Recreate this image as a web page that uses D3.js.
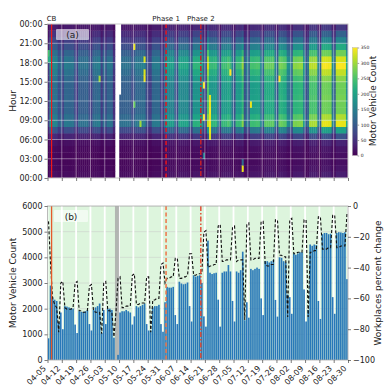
<!DOCTYPE html>
<html><head><meta charset="utf-8">
<script src="https://cdn.jsdelivr.net/npm/d3@7"></script>
<style>body{margin:0;background:#fff} text{font-family:"DejaVu Sans",sans-serif;fill:#222}</style>
</head><body><svg id="c" width="390" height="390"></svg>
<script>
// ---------------- data ----------------
const startDate = "2020-04-05", endDate = "2020-08-30";
const tickLabels = ["04-05","04-12","04-19","04-26","05-03","05-10","05-17","05-24","05-31","06-07","06-14","06-21","06-28","07-05","07-12","07-19","07-26","08-02","08-09","08-16","08-23","08-30"];
const hourTicks = [0,3,6,9,12,15,18,21,24];
const hourLabels = ["00:00","03:00","06:00","09:00","12:00","15:00","18:00","21:00","00:00"];
const countTicks = [0,1000,2000,3000,4000,5000,6000];
const workTicks = [-100,-80,-60,-40,-20,0];
const cbarTicks = [0,50,100,150,200,250,300,350];
// daily motor vehicle count (04-05 .. 08-29)
const vehicles = [
 845,2900,2450,2350,2300,1450,1850,
 1200,2100,2080,2050,2020,2000,1380,
 1050,1900,1880,1870,1900,1950,1400,
 1150,1950,2050,2100,2200,1050,1950,
 1400,2000,2000,1950,870,null,200,
 1850,1900,1900,1950,1900,1850,1380,
 1700,2100,2050,2100,2150,2200,1400,
 1150,1150,2050,2100,2100,2150,1400,
 1100,2250,2850,2820,2820,2850,1750,
 1400,3050,2980,2950,2970,3020,2100,
 1500,3300,3250,3280,3300,3000,1700,
 1300,4650,3400,3350,3380,3400,2350,
 1300,3400,3450,3450,3700,3450,2300,
 1500,3450,3400,3500,4220,1550,2250,
 1650,3550,3500,3550,3600,3550,2400,
 1750,3850,3850,3800,3850,3900,2340,
 1690,4000,3980,3850,3800,2550,2450,
 1800,4150,4100,4150,4200,4200,2750,
 1500,1950,4500,4450,4500,4480,2300,
 1600,4900,4950,4950,4900,4920,2450,
 1800,4950,4980,4970,4950,4980,3150];
// workplaces percent change (daily)
const workplaces = [
 -10,-38,-60,-64,-66,-82,-50,
 -49,-66,-67,-67,-67,-66,-50,
 -49,-68,-68,-69,-69,-68,-52,
 -51,-68,-69,-69,-69,-83,-50,
 -49,-68,-68,-69,-85,-69,-47,
 -46,-66,-66,-65,-65,-65,-45,
 -44,-64,-64,-63,-63,-63,-46,
 -46,-82,-61,-61,-60,-60,-38,
 -37,-50,-47,-47,-46,-46,-34,
 -34,-47,-47,-46,-46,-45,-31,
 -31,-45,-45,-44,-44,-44,-17,
 -16,-40,-39,-39,-38,-38,-13,
 -12,-36,-36,-35,-35,-35,-14,
 -13,-36,-35,-35,-35,-74,-12,
 -11,-35,-35,-34,-34,-34,-10,
 -10,-38,-39,-39,-38,-38,-9,
 -9,-32,-32,-33,-33,-72,-9,
 -8,-31,-31,-30,-30,-30,-9,
 -9,-72,-30,-30,-29,-29,-7,
 -7,-28,-28,-28,-27,-27,-6,
 -6,-27,-27,-26,-26,-26,-5];
const hourShare = [0.006,0.004,0.003,0.003,0.004,0.007,0.018,0.040,0.068,0.062,0.055,0.055,0.056,0.055,0.055,0.058,0.064,0.070,0.066,0.055,0.043,0.032,0.022,0.012];
// isolated hot cells [dayIndex, hour, count]
const hotspots = [[0,19,250],[0,18,220],[42,20,340],[47,18,330],[47,16,330],[47,15,340],[25,15,300],[42,11,270],[45,8,300],
 [76,14,350],[76,9,350],[89,16,350],[113,15,350],[99,11,340],[95,1,340],[95,2,120],[76,3,150],
 [79,6,330],[79,7,340],[79,8,345],[79,9,340],[79,10,345],[79,11,340],[79,12,340]];
const heatMissingDays = ["2020-05-08","2020-05-09"];
const heatPartial = {date:"2020-05-10", fromHour:13};
const grayBand = ["2020-05-08","2020-05-10"];
const events = [{label:"CB",date:"2020-04-07"},{label:"Phase 1",date:"2020-06-02"},{label:"Phase 2",date:"2020-06-19"}];

// ---------------- chart ----------------
const parse = d3.timeParse("%Y-%m-%d");
const t0 = parse(startDate), t1 = parse(endDate);
const days = d3.timeDay.range(t0, t1);
const X0 = 47.5, X1 = 348;
const x = d3.scaleTime().domain([t0, t1]).range([X0, X1]);
const dayW = x(days[1]) - x(days[0]);
const svg = d3.select("#c");
const defs = svg.append("defs");

// ===== panel (a) heatmap =====
const HT = 24, HB = 178;
const yH = d3.scaleLinear().domain([0,24]).range([HB, HT]);
const color = d3.scaleSequential(d3.interpolateViridis).domain([0,350]).clamp(true);
defs.append("clipPath").attr("id","clipA").append("rect").attr("x",X0).attr("y",HT).attr("width",X1-X0).attr("height",HB-HT);
defs.append("clipPath").attr("id","clipB").append("rect").attr("x",X0).attr("y",206).attr("width",X1-X0).attr("height",154);

const missIdx = new Set(heatMissingDays.map(s => d3.timeDay.count(t0, parse(s))));
const partIdx = d3.timeDay.count(t0, parse(heatPartial.date));
const cells = [];
days.forEach((dt, d) => {
  for (let h = 0; h < 24; h++) {
    let v = vehicles[d] == null ? null : vehicles[d] * hourShare[h];
    if (missIdx.has(d)) v = null;
    if (d === partIdx && h >= heatPartial.fromHour) v = null;
    cells.push({d, h, v});
  }
});
hotspots.forEach(([d,h,v]) => { cells[d*24+h].v = v; });
const gA = svg.append("g").attr("clip-path","url(#clipA)");
gA.selectAll("rect").data(cells.filter(c => c.v != null)).join("rect")
  .attr("x", c => x(days[c.d])).attr("width", dayW + 0.35)
  .attr("y", c => yH(c.h+1)).attr("height", yH(0)-yH(1) + 0.35)
  .attr("fill", c => color(c.v));
// grid
const weekTicks = tickLabels.map((s,i) => d3.timeDay.offset(t0, 7*i));
gA.selectAll("line.gv").data(weekTicks).join("line").attr("class","gv")
  .attr("x1", d => x(d)).attr("x2", d => x(d)).attr("y1", HT).attr("y2", HB)
  .attr("stroke","#fff").attr("stroke-opacity",0.45).attr("stroke-width",0.9);
gA.selectAll("line.gh").data(hourTicks).join("line").attr("class","gh")
  .attr("x1", X0).attr("x2", X1).attr("y1", d => yH(d)).attr("y2", d => yH(d))
  .attr("stroke","#fff").attr("stroke-opacity",0.45).attr("stroke-width",0.9);
// event lines (top)
const evTop = [{c:"#f01818",dash:null,w:1.2},{c:"#e8141c",dash:"4,2.5",w:1.5},{c:"#c8202a",dash:"5,2,1.5,2",w:1.5}];
events.forEach((e,i) => {
  const xe = x(parse(e.date));
  svg.append("line").attr("x1",xe).attr("x2",xe).attr("y1",HT).attr("y2",HB)
    .attr("stroke",evTop[i].c).attr("stroke-width",evTop[i].w).attr("stroke-dasharray",evTop[i].dash);
  svg.append("text").attr("x",xe).attr("y",21).attr("text-anchor","middle").attr("font-size",7).attr("fill","#333").text(e.label);
});
svg.append("rect").attr("x",X0).attr("y",HT).attr("width",X1-X0).attr("height",HB-HT).attr("fill","none").attr("stroke","#bbb").attr("stroke-width",0.8);
// axes
const axL = svg.append("g").attr("transform",`translate(${X0},0)`)
  .call(d3.axisLeft(yH).tickValues(hourTicks).tickFormat((d,i)=>hourLabels[i]).tickSize(3).tickPadding(2));
const axBotA = svg.append("g").attr("transform",`translate(0,${HB})`)
  .call(d3.axisBottom(x).tickValues(weekTicks).tickFormat("").tickSize(3));
// panel label (a)
svg.append("rect").attr("x",56).attr("y",29).attr("width",33).attr("height",11).attr("rx",1).attr("fill","#fff").attr("fill-opacity",0.6);
svg.append("text").attr("x",72.5).attr("y",38).attr("text-anchor","middle").attr("font-size",9).text("(a)");
svg.append("text").attr("transform","translate(16,101) rotate(-90)").attr("text-anchor","middle").attr("font-size",9).text("Hour");

// colorbar
const CBx = 352.3, CBw = 5.4, CBt = 47.5, CBb = 155.5;
const grad = defs.append("linearGradient").attr("id","vir").attr("x1",0).attr("x2",0).attr("y1",1).attr("y2",0);
d3.range(0,1.0001,0.1).forEach(t => grad.append("stop").attr("offset",t).attr("stop-color",d3.interpolateViridis(t)));
svg.append("rect").attr("x",CBx).attr("y",CBt).attr("width",CBw).attr("height",CBb-CBt).attr("fill","url(#vir)").attr("stroke","#bbb").attr("stroke-width",0.5);
const yC = d3.scaleLinear().domain([0,350]).range([CBb,CBt]);
const axC = svg.append("g").attr("transform",`translate(${CBx+CBw},0)`)
  .call(d3.axisRight(yC).tickValues(cbarTicks).tickSize(1.5).tickPadding(1.5));
axC.selectAll("text").attr("font-size",4.5);
axC.select(".domain").remove();
svg.append("text").attr("transform","translate(376,101) rotate(-90)").attr("text-anchor","middle").attr("font-size",9).text("Motor Vehicle Count");

// ===== panel (b) =====
const BT = 206, BB = 360;
const yL = d3.scaleLinear().domain([0,6000]).range([BB,BT]);
const yR = d3.scaleLinear().domain([-100,0]).range([BB,BT]);
const gB = svg.append("g").attr("clip-path","url(#clipB)");
gB.append("rect").attr("x",X0).attr("y",BT).attr("width",X1-X0).attr("height",BB-BT).attr("fill","#ddf5dd");
gB.selectAll("line.gh").data(countTicks).join("line").attr("class","gh")
  .attr("x1",X0).attr("x2",X1).attr("y1",d=>yL(d)).attr("y2",d=>yL(d)).attr("stroke","#cfd8cf").attr("stroke-width",0.8);
gB.selectAll("line.gv").data(weekTicks).join("line").attr("class","gv")
  .attr("x1",d=>x(d)).attr("x2",d=>x(d)).attr("y1",BT).attr("y2",BB).attr("stroke","#fff").attr("stroke-width",1.8);
gB.append("rect").attr("x",x(parse(grayBand[0]))).attr("width",x(parse(grayBand[1]))-x(parse(grayBand[0])))
  .attr("y",BT).attr("height",BB-BT).attr("fill","#aaa").attr("fill-opacity",0.85);
gB.selectAll("rect.bar").data(days.map((d,i)=>({d,v:vehicles[i]})).filter(o=>o.v!=null)).join("rect").attr("class","bar")
  .attr("x",o=>x(o.d)+0.1*dayW).attr("width",0.8*dayW)
  .attr("y",o=>yL(o.v)).attr("height",o=>BB-yL(o.v)).attr("fill","#2878b8");
const line = d3.line().x((v,i)=>x(days[i])+0.5*dayW).y(v=>yR(v));
gB.append("path").attr("d",line(workplaces)).attr("fill","none").attr("stroke","#111").attr("stroke-width",1.1).attr("stroke-dasharray","3,2");
const evBot = [{c:"#e65a2a",dash:null,w:1.3},{c:"#ee7448",dash:"4,2.5",w:1.5},{c:"#e2452c",dash:"5,2,1.5,2",w:1.4}];
events.forEach((e,i) => {
  const xe = x(parse(e.date));
  gB.append("line").attr("x1",xe).attr("x2",xe).attr("y1",BT).attr("y2",BB)
    .attr("stroke",evBot[i].c).attr("stroke-width",evBot[i].w).attr("stroke-dasharray",evBot[i].dash);
});
svg.append("rect").attr("x",X0).attr("y",BT).attr("width",X1-X0).attr("height",BB-BT).attr("fill","none").attr("stroke","#aaa").attr("stroke-width",0.8);
svg.append("rect").attr("x",54).attr("y",210).attr("width",34).attr("height",12).attr("rx",1).attr("fill","#fff").attr("fill-opacity",0.6);
svg.append("text").attr("x",71).attr("y",219.5).attr("text-anchor","middle").attr("font-size",9).text("(b)");
const axBL = svg.append("g").attr("transform",`translate(${X0},0)`)
  .call(d3.axisLeft(yL).tickValues(countTicks).tickFormat(d3.format("d")).tickSize(3).tickPadding(2));
const axBR = svg.append("g").attr("transform",`translate(${X1},0)`)
  .call(d3.axisRight(yR).tickValues(workTicks).tickFormat(d=>d<0?"\u2212"+Math.abs(d):String(d)).tickSize(3).tickPadding(2));
const axBB = svg.append("g").attr("transform",`translate(0,${BB})`)
  .call(d3.axisBottom(x).tickValues(weekTicks).tickFormat("").tickSize(3));
svg.selectAll(".tick-lab").data(weekTicks).join("text").attr("class","tick-lab")
  .attr("transform",(d)=>`translate(${x(d)-1},369) rotate(-45)`).attr("text-anchor","end").attr("font-size",8)
  .text((d,i)=>tickLabels[i]);
svg.append("text").attr("transform","translate(16,283) rotate(-90)").attr("text-anchor","middle").attr("font-size",9).text("Motor Vehicle Count");
svg.append("text").attr("transform","translate(381,283) rotate(-90)").attr("text-anchor","middle").attr("font-size",9).text("Workplaces percent change");

// common axis styling
[axL,axBotA,axBL,axBR,axBB].forEach(a => { a.select(".domain").remove(); a.selectAll("line").attr("stroke","#444").attr("stroke-width",0.7); a.selectAll("text").attr("font-size",8).attr("fill","#222").attr("font-family","DejaVu Sans"); });
axC.selectAll("line").attr("stroke","#444").attr("stroke-width",0.5);
axC.selectAll("text").attr("fill","#333").attr("font-family","DejaVu Sans");
</script></body></html>
